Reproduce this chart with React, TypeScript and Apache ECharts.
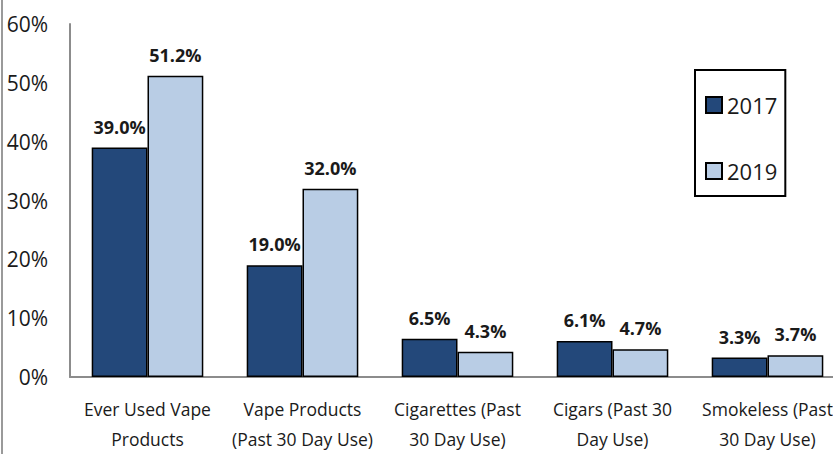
import React, { useEffect, useRef } from "react";
import * as echarts from "echarts";

const categories = [
  "Ever Used Vape\nProducts",
  "Vape Products\n(Past 30 Day Use)",
  "Cigarettes (Past\n30 Day Use)",
  "Cigars (Past 30\nDay Use)",
  "Smokeless (Past\n30 Day Use)",
];
const values2017 = [39.0, 19.0, 6.5, 6.1, 3.3];
const values2019 = [51.2, 32.0, 4.3, 4.7, 3.7];
const yTicks = { min: 0, max: 60, interval: 10 };

const FONT = "'Open Sans', 'DejaVu Sans', sans-serif";

export default function App() {
  const ref = useRef<HTMLDivElement>(null);
  useEffect(() => {
    if (!ref.current) return;
    const chart = echarts.init(ref.current, null, { renderer: "svg" });
    const label = {
      show: true,
      position: "top",
      distance: 12,
      fontFamily: FONT,
      fontWeight: "bold",
      fontSize: 18,
      color: "#1a1a1a",
      formatter: (p: any) => p.value.toFixed(1) + "%",
    };
    chart.setOption({
      animation: false,
      backgroundColor: "#ffffff",
      grid: { left: 70, right: 15, top: 24, bottom: 75 },
      legend: {
        orient: "vertical",
        left: 695,
        top: 70,
        padding: [24, 8, 14, 10],
        itemGap: 44,
        itemWidth: 16,
        itemHeight: 16,
        icon: "rect",
        borderColor: "#000",
        borderWidth: 2,
        textStyle: { fontFamily: FONT, fontSize: 22, color: "#1a1a1a" },
        data: ["2017", "2019"],
      },
      xAxis: {
        type: "category",
        data: categories,
        axisTick: { show: false },
        axisLine: { lineStyle: { color: "#8c8c8c", width: 2 } },
        axisLabel: {
          fontFamily: FONT,
          fontSize: 17.5,
          color: "#1a1a1a",
          lineHeight: 30,
          margin: 17,
          interval: 0,
        },
      },
      yAxis: {
        type: "value",
        min: yTicks.min,
        max: yTicks.max,
        interval: yTicks.interval,
        splitLine: { show: false },
        axisTick: { show: false },
        axisLine: { show: true, lineStyle: { color: "#8c8c8c", width: 2 } },
        axisLabel: {
          fontFamily: FONT,
          fontSize: 21,
          color: "#1a1a1a",
          margin: 22,
          formatter: "{value}%",
        },
      },
      series: [
        {
          name: "2017",
          type: "bar",
          data: values2017,
          barGap: "0%",
          barCategoryGap: "28%",
          itemStyle: { color: "#23487a", borderColor: "#000", borderWidth: 1.5 },
          label,
        },
        {
          name: "2019",
          type: "bar",
          data: values2019,
          barGap: "0%",
          barCategoryGap: "28%",
          itemStyle: { color: "#b9cde5", borderColor: "#000", borderWidth: 1.5 },
          label,
        },
      ],
      graphic: [
        {
          type: "line",
          shape: { x1: 2, y1: 0, x2: 2, y2: 454 },
          style: { stroke: "#9a9a9a", lineWidth: 2 },
        },
      ],
    });
    return () => chart.dispose();
  }, []);
  return (
    <div style={{ position: "absolute", left: 0, top: 0, width: 833, height: 454, overflow: "hidden", background: "#fff" }}>
      <div ref={ref} style={{ width: 860, height: 454 }} />
    </div>
  );
}
